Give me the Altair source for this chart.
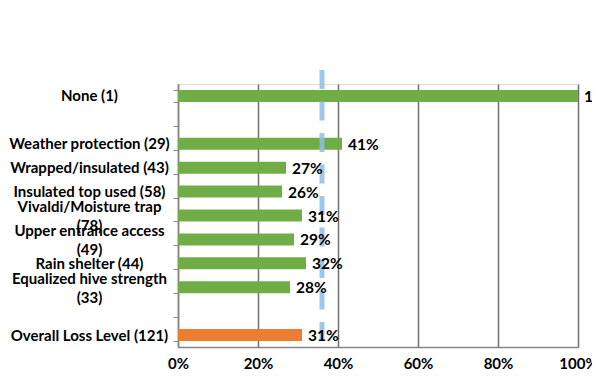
import altair as alt
import pandas as pd

categories = [
    "None (1)",
    "_gap1",
    "Weather protection (29)",
    "Wrapped/insulated (43)",
    "Insulated top used (58)",
    "Vivaldi/Moisture trap|(78)",
    "Upper entrance access|(49)",
    "Rain shelter (44)",
    "Equalized hive strength|(33)",
    "_gap2",
    "Overall Loss Level (121)",
]
values = [1.00, None, 0.41, 0.27, 0.26, 0.31, 0.29, 0.32, 0.28, None, 0.31]
groups = ["cond", None, "cond", "cond", "cond", "cond", "cond", "cond", "cond", None, "overall"]
reference_level = [0.36]

df = pd.DataFrame({"category": categories, "value": values, "group": groups})
bars_df = df.dropna(subset=["value"])
ref_df = pd.DataFrame({"ref": reference_level})

FONT = "Lato"

y_enc = alt.Y(
    "category:N",
    sort=categories,
    scale=alt.Scale(domain=categories, paddingInner=0.5, paddingOuter=0.25),
    axis=alt.Axis(
        title=None,
        labelExpr="indexof(datum.label, '_') == 0 ? '' : split(datum.label, '|')",
        labelAlign="center",
        labelBaseline="middle",
        labelPadding=84,
        labelOffset={"condition": {"test": "indexof(datum.label, '|') >= 0", "value": -9}, "value": 0},
        labelFont=FONT,
        labelFontSize=15,
        labelFontWeight="bold",
        labelColor="#000000",
        labelLineHeight=19,
        labelLimit=0,
        tickBand="extent",
        tickSize=5,
        tickColor="#868686",
        domainColor="#868686",
        domainWidth=1.5,
        grid=False,
    ),
)

x_scale = alt.Scale(domain=[0, 1], nice=False)

bars = alt.Chart(bars_df).mark_bar().encode(
    x=alt.X(
        "value:Q",
        scale=x_scale,
        axis=alt.Axis(
            title=None,
            format=".0%",
            values=[0, 0.2, 0.4, 0.6, 0.8, 1.0],
            labelFont=FONT,
            labelFontSize=15,
            labelFontWeight="bold",
            labelColor="#000000",
            labelPadding=9,
            labelFlush=False,
            ticks=False,
            grid=True,
            gridColor="#6f6f6f",
            gridWidth=1.5,
            domainColor="#868686",
            domainWidth=1.5,
        ),
    ),
    y=y_enc,
    color=alt.Color(
        "group:N",
        scale=alt.Scale(domain=["cond", "overall"], range=["#70AD47", "#ED7D31"]),
        legend=None,
    ),
)

rule = alt.Chart(ref_df).mark_rule(
    color="#8DBDE6", strokeWidth=5, strokeDash=[19, 12.5], opacity=0.85
).encode(
    x=alt.X("ref:Q", scale=x_scale),
    y=alt.value(-14),
    y2=alt.value(258),
)

labels = alt.Chart(bars_df).mark_text(
    align="left", baseline="middle", dx=6, dy=1,
    font=FONT, fontSize=15.5, fontWeight="bold", color="#000000",
).encode(
    x=alt.X("value:Q", scale=x_scale),
    y=alt.Y("category:N", sort=categories, scale=alt.Scale(domain=categories)),
    text=alt.Text("value:Q", format=".0%"),
)

chart = alt.layer(bars, rule, labels).properties(
    width=400,
    height=263,
    autosize=alt.AutoSizeParams(type="none"),
    padding={"left": 170, "top": 76, "right": 14, "bottom": 27},
).configure_view(stroke=None).configure(background="#ffffff")

chart.save("out.html", embed_options={"renderer": "svg", "actions": False})
